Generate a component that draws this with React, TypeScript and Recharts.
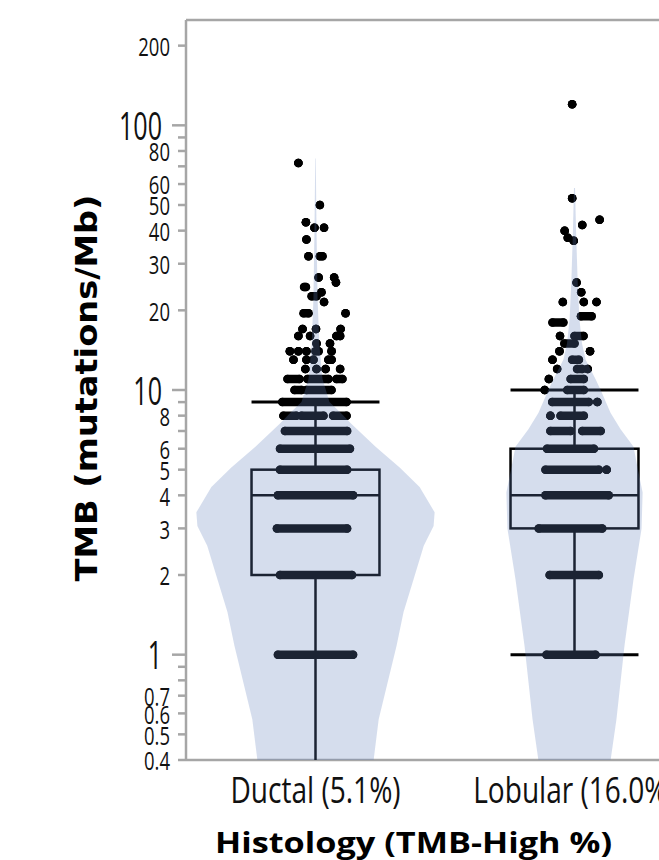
import React from "react";
import { ComposedChart, Scatter, XAxis, YAxis, ReferenceLine } from "recharts";

// categories on the x axis (index 0, 1)
const categories = ["Ductal (5.1%)", "Lobular (16.0%)"];

// box plot stats, TMB in mutations/Mb (Ductal lower whisker reaches 0, below the log floor)
const q1 = [2, 3];
const median = [4, 4];
const q3 = [5, 6];
const whiskerLow = [0, 1];
const whiskerHigh = [9, 10];

// violin outlines: TMB level and half width (fraction of category spacing)
const ductalViolinY = [0.35, 0.57, 1.08, 1.45, 1.93, 2.58, 3.06, 3.45, 4.3, 5.1, 6.1, 7.5, 8.2, 9, 11, 14.8, 22, 40, 75];
const ductalViolinW = [0.217, 0.244, 0.313, 0.34, 0.379, 0.418, 0.456, 0.46, 0.402, 0.325, 0.232, 0.135, 0.097, 0.054, 0.027, 0.015, 0.008, 0.004, 0.001];
const lobularViolinY = [0.35, 0.57, 1.08, 1.93, 3.0, 4.1, 5, 6.1, 7.1, 8.2, 10, 11, 13, 15, 18.5, 26, 40, 58];
const lobularViolinW = [0.131, 0.162, 0.193, 0.228, 0.259, 0.263, 0.245, 0.228, 0.178, 0.139, 0.101, 0.081, 0.043, 0.029, 0.019, 0.012, 0.006, 0.002];

// patient dots: [TMB, jitter from, jitter to] – runs of overlapping dots share one row
const ductalDots: [number, number, number][] = [
  [1, -0.145, 0.145], [2, -0.137, 0.141], [3, -0.149, 0.122], [4, -0.145, 0.145],
  [5, -0.137, 0.122], [6, -0.137, 0.133], [7, -0.118, 0.122],
  [8, -0.124, -0.074], [8, -0.054, 0.031], [8, 0.068, 0.12],
  [9, -0.128, 0.12],
  [10, -0.081, -0.054], [10, -0.035, 0.062],
  [11, -0.108, -0.062], [11, -0.031, 0.05], [11, 0.081, 0.104],
  [12, -0.039, -0.039], [12, 0.004, 0.004], [12, 0.039, 0.039], [12, 0.095, 0.095],
  [13, -0.085, -0.085], [13, -0.035, -0.035], [13, -0.008, -0.008], [13, 0.05, 0.05], [13, 0.062, 0.062],
  [14, -0.099, -0.099], [14, -0.066, -0.066], [14, -0.035, -0.035], [14, 0, 0.012], [14, 0.062, 0.062],
  [15, 0.004, 0.004], [15, 0.056, 0.056],
  [16, -0.066, -0.066], [16, -0.021, -0.021], [16, 0.081, 0.081], [16, 0.095, 0.095],
  [17, -0.05, -0.05], [17, 0.002, 0.002], [17, 0.097, 0.097],
  [19.5, -0.046, -0.027], [19.5, 0.116, 0.116],
  [21.5, 0.033, 0.033], [22.6, -0.015, 0.004], [23.4, 0.023, 0.023],
  [24.5, -0.044, -0.037], [25.5, 0.079, 0.079], [26.6, 0.012, 0.012], [26.6, 0.072, 0.072],
  [32, -0.027, -0.027], [32, 0.017, 0.027], [37, -0.035, -0.035],
  [41, -0.004, -0.004], [41, 0.033, 0.033], [43, -0.037, -0.037], [50, 0.017, 0.017], [72, -0.066, -0.066],
];
const lobularDots: [number, number, number][] = [
  [1, -0.108, 0.081], [2, -0.096, 0.094], [3, -0.138, 0.107], [4, -0.112, 0.132],
  [5, -0.112, 0.094], [5, 0.124, 0.124], [6, -0.106, 0.075],
  [7, -0.093, -0.015], [7, 0.03, 0.101],
  [8, -0.093, -0.093], [8, -0.054, 0.036],
  [9, -0.086, 0.055], [9, 0.088, 0.088],
  [10, -0.115, -0.115], [10, -0.028, 0.036],
  [11, -0.099, -0.099], [11, -0.015, 0.036],
  [12, -0.067, -0.067], [12, 0.01, 0.03], [12, 0.051, 0.051],
  [13, -0.085, -0.085], [13, -0.009, 0.017],
  [14, -0.058, -0.058], [14, 0.06, 0.06],
  [15, -0.039, 0],
  [16, -0.056, -0.056], [16, 0, 0.035],
  [18, -0.085, -0.043], [19, 0.025, 0.066],
  [21.5, -0.045, -0.045], [21.5, 0.036, 0.036], [21.5, 0.085, 0.085],
  [23.4, 0.026, 0.026], [25.5, 0.008, 0.008],
  [36.6, -0.003, -0.003], [37.6, -0.026, -0.026], [40, -0.038, -0.038],
  [42, 0.03, 0.03], [44, 0.097, 0.097], [53, -0.009, -0.009], [120, -0.009, -0.009],
];

// y axis ticks
const yTicks = [0.4, 0.5, 0.6, 0.7, 0.8, 0.9, 1, 2, 3, 4, 5, 6, 7, 8, 9, 10, 20, 30, 40, 50, 60, 70, 80, 90, 100, 200];
const yUnlabelled = [0.8, 0.9, 7, 9, 70, 90];
const yMajor = [1, 10, 100];

const Y_MIN = 0.4;
const Y_MAX = 250;
const BOX_HALF = 0.247;
const DOT_R = 4.25;
const AXIS_GRAY = "#a6a6a6";
const VIOLIN_FILL = "rgb(100,128,190)";
const FONT = "'Open Sans', 'Noto Sans', sans-serif";

const violinData = (center: number, ys: number[], ws: number[]) => {
  const right = ys.map((y, i) => ({ x: center + ws[i], y }));
  const left = ys.map((y, i) => ({ x: center - ws[i], y })).reverse();
  return [...right, ...left];
};

const dotData = (center: number, rows: [number, number, number][]) =>
  rows.flatMap(([y, a, b]) => [
    { x: center + a, y },
    { x: center + b, y },
  ]);

const boxData = (i: number) => {
  const lo = whiskerLow[i] >= Y_MIN ? whiskerLow[i] : Y_MIN / 2;
  return [
    { x: i - BOX_HALF, y: q1[i] }, { x: i + BOX_HALF, y: q3[i] },
    { x: i - BOX_HALF, y: median[i] }, { x: i + BOX_HALF, y: median[i] },
    { x: i, y: lo }, { x: i, y: q1[i] },
    { x: i, y: q3[i] }, { x: i, y: whiskerHigh[i] },
    { x: i - BOX_HALF, y: whiskerHigh[i] }, { x: i + BOX_HALF, y: whiskerHigh[i] },
    { x: i - BOX_HALF, y: lo }, { x: i + BOX_HALF, y: lo },
  ];
};

const noShape = () => <g />;

const ViolinLine = (props: any) => {
  const pts = props.points || [];
  if (!pts.length) return <g />;
  const d = pts.map((p: any, i: number) => `${i ? "L" : "M"}${p.x},${p.y}`).join(" ") + " Z";
  return <path d={d} fill={VIOLIN_FILL} fillOpacity={0.27} stroke="none" />;
};

const DotRuns = (props: any) => {
  const pts = props.points || [];
  const segs = [];
  for (let i = 0; i + 1 < pts.length; i += 2) {
    segs.push(
      <line key={i} x1={pts[i].x} y1={pts[i].y} x2={pts[i + 1].x} y2={pts[i + 1].y}
        stroke="#000" strokeWidth={DOT_R * 2} strokeLinecap="round" />
    );
  }
  return <g>{segs}</g>;
};

const makeBoxLine = (hasLowCap: boolean) => (props: any) => {
  const p = props.points || [];
  if (p.length < 12) return <g />;
  const seg = (a: any, b: any, w: number, k: string) => (
    <line key={k} x1={a.x} y1={a.y} x2={b.x} y2={b.y} stroke="#000" strokeWidth={w} />
  );
  const [r0, r1] = [p[0], p[1]];
  return (
    <g>
      <rect x={r0.x} y={r1.y} width={r1.x - r0.x} height={r0.y - r1.y} fill="none" stroke="#000" strokeWidth={2.5} />
      {seg(p[2], p[3], 2.5, "med")}
      {seg(p[4], p[5], 2.5, "wl")}
      {seg(p[6], p[7], 2.5, "wh")}
      {seg(p[8], p[9], 3, "ch")}
      {hasLowCap && seg(p[10], p[11], 3, "cl")}
    </g>
  );
};

const YTick = (props: any) => {
  const { x, y, payload } = props;
  const v = payload.value;
  const major = yMajor.includes(v);
  const len = major ? 14 : 8;
  return (
    <g>
      <line x1={x - len} x2={x} y1={y} y2={y} stroke={AXIS_GRAY} strokeWidth={2.5} />
      {!yUnlabelled.includes(v) && (
        <text
          transform={`translate(${x - len - (major ? 10 : 8)},${y}) scale(${major ? 0.66 : 0.74},1)`}
          textAnchor="end"
          dominantBaseline="central"
          fontSize={major ? 38 : 25}
          fontFamily={FONT}
          fill="#111"
        >
          {String(v)}
        </text>
      )}
    </g>
  );
};

const XTick = (props: any) => {
  const { x, y, payload } = props;
  return (
    <text
      transform={`translate(${x},${y + 43}) scale(0.78,1)`}
      textAnchor="middle"
      fontSize={36}
      fontFamily={FONT}
      fill="#111"
    >
      {categories[payload.value]}
    </text>
  );
};

export default function App() {
  return (
    <div style={{ position: "fixed", left: 0, top: 0, width: 659, height: 860, overflow: "hidden", background: "#fff" }}>
      <ComposedChart width={704} height={860} margin={{ top: 20, right: 0, bottom: 0, left: 0 }}>
        <XAxis
          type="number"
          dataKey="x"
          domain={[-0.5, 1.5]}
          allowDataOverflow
          ticks={[0, 1]}
          interval={0}
          height={100}
          tickLine={false}
          tickSize={0}
          tickMargin={0}
          axisLine={{ stroke: AXIS_GRAY, strokeWidth: 2.5 }}
          tick={<XTick />}
        />
        <YAxis
          type="number"
          dataKey="y"
          scale="log"
          domain={[Y_MIN, Y_MAX]}
          allowDataOverflow
          ticks={yTicks}
          interval={0}
          width={186}
          tickLine={false}
          tickSize={0}
          tickMargin={0}
          axisLine={{ stroke: AXIS_GRAY, strokeWidth: 2.5 }}
          tick={<YTick />}
        />
        <ReferenceLine y={Y_MAX} stroke={AXIS_GRAY} strokeWidth={2.5} ifOverflow="visible" />
        {categories.map((c, i) => (
          <Scatter key={`box-${c}`} data={boxData(i)} shape={noShape}
            line={makeBoxLine(whiskerLow[i] >= Y_MIN)} isAnimationActive={false} />
        ))}
        <Scatter data={dotData(0, ductalDots)} fill="#000" line={DotRuns}
          shape={(p: any) => <circle cx={p.cx} cy={p.cy} r={DOT_R} fill="#000" />} isAnimationActive={false} />
        <Scatter data={dotData(1, lobularDots)} fill="#000" line={DotRuns}
          shape={(p: any) => <circle cx={p.cx} cy={p.cy} r={DOT_R} fill="#000" />} isAnimationActive={false} />
        <Scatter data={violinData(0, ductalViolinY, ductalViolinW)} shape={noShape} line={ViolinLine} isAnimationActive={false} />
        <Scatter data={violinData(1, lobularViolinY, lobularViolinW)} shape={noShape} line={ViolinLine} isAnimationActive={false} />
      </ComposedChart>
      <svg width={659} height={860} style={{ position: "absolute", left: 0, top: 0, pointerEvents: "none" }}>
        <text
          transform="translate(97,388) rotate(-90)"
          textAnchor="middle"
          fontSize={30}
          fontWeight="bold"
          fontFamily="'DejaVu Sans', sans-serif"
          textLength={387}
          lengthAdjust="spacingAndGlyphs"
          fill="#000"
        >
          TMB (mutations/Mb)
        </text>
        <text
          x={413.5}
          y={853}
          textAnchor="middle"
          fontSize={29}
          fontWeight="bold"
          fontFamily={FONT}
          textLength={397}
          lengthAdjust="spacingAndGlyphs"
          fill="#000"
        >
          Histology (TMB-High %)
        </text>
      </svg>
    </div>
  );
}
